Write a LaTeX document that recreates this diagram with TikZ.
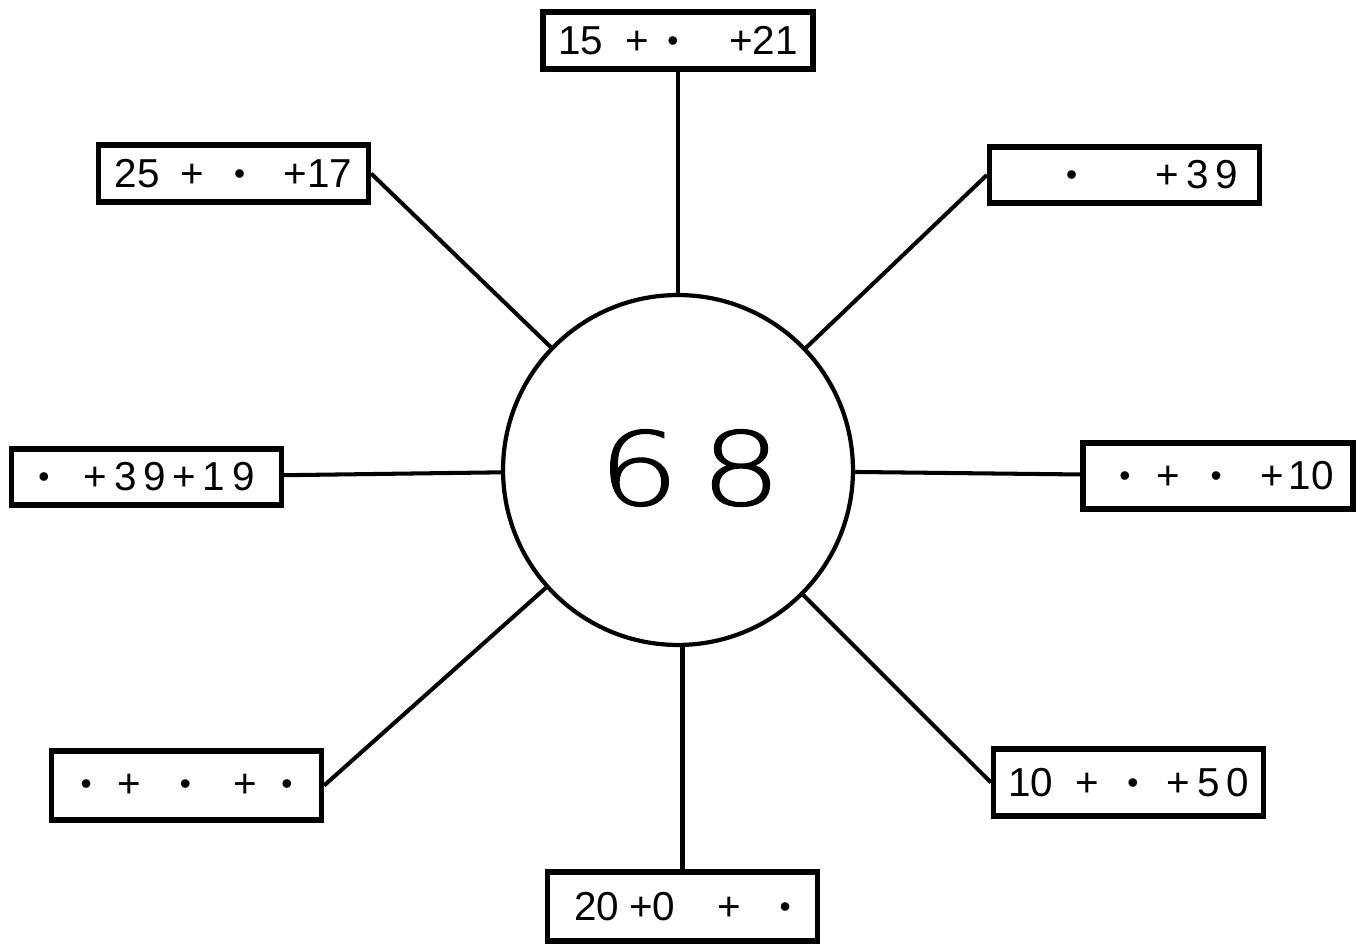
\documentclass[tikz,border=0pt]{standalone}
\usepackage{fontspec}
\setmainfont{Liberation Sans}
\newfontfamily\thinfont{DejaVu Sans ExtraLight}[FakeBold=1.1]
\newcommand{\pnt}{\raisebox{1.8pt}{\fontsize{18}{18}\selectfont\textbullet}}

\begin{document}
\begin{tikzpicture}[x=0.02cm, y=-0.02cm,
  sumbox/.style={draw, line width=3pt, minimum width=5.4cm, inner sep=0pt, font=\fontsize{23}{27}\selectfont},
  link/.style={line width=2.3pt}]
 \useasboundingbox (0,0) rectangle (1369,945);

 % Centre circle
 \node[draw, circle, line width=2.4pt, minimum size=7.0cm, inner sep=0pt] (mid) at (678,470) {};
 \node[font=\thinfont\fontsize{58}{60}\selectfont] (num) at (690,468) {\scalebox{1.25}[1]{6\,8}};

 % Sum boxes
 \node[sumbox, minimum height=1.14cm] (nTop) at (678,40.5) {15\hspace{0.55em}+\hspace{0.45em}\pnt\hspace{1.25em}+21};
 \node[sumbox, minimum height=1.14cm] (nUpL) at (233.5,173.5) {25\hspace{0.5em}+\hspace{0.75em}\pnt\hspace{0.95em}+17};
 \node[sumbox, minimum height=1.12cm] (nUpR) at (1124.5,175) {\hspace{1.1cm}\pnt\hspace{1.95em}+\,3\,9};
 \node[sumbox, minimum height=1.12cm] (nLeft) at (146.5,477) {\pnt\hspace{0.85em}+\,3\,9\,+\,1\,9};
 \node[sumbox, minimum height=1.32cm] (nRight) at (1218,476) {\hspace{0.34cm}\pnt\hspace{0.65em}+\hspace{0.75em}\pnt\hspace{0.95em}+\hspace{0.12em}10};
 \node[sumbox, minimum height=1.38cm] (nLowL) at (186.5,785.5) {\pnt\hspace{0.65em}+\hspace{0.95em}\pnt\hspace{1.05em}+\hspace{0.6em}\pnt};
 \node[sumbox, minimum height=1.34cm] (nLowR) at (1128.5,782.5) {10\hspace{0.55em}+\hspace{0.7em}\pnt\hspace{0.7em}+\,5\,0};
 \node[sumbox, minimum height=1.38cm] (nBot) at (682.5,906.5) {20\hspace{0.25em}+0\hspace{1.05em}+\hspace{0.95em}\pnt\hspace{0.26cm}};

 % Connectors
 \draw[link] (nTop) -- (nTop |- mid.north);
 \draw[link] (nBot) -- (nBot |- mid.south);
 \draw[link] (nLeft) -- (mid);
 \draw[link] (nRight) -- (mid);
 \draw[link] (nUpL.east) -- (mid);
 \draw[link] (nUpR.west) -- (mid);
 \draw[link] (nLowL.east) -- (mid);
 \draw[link] (nLowR.west) -- (mid);
\end{tikzpicture}
\end{document}
